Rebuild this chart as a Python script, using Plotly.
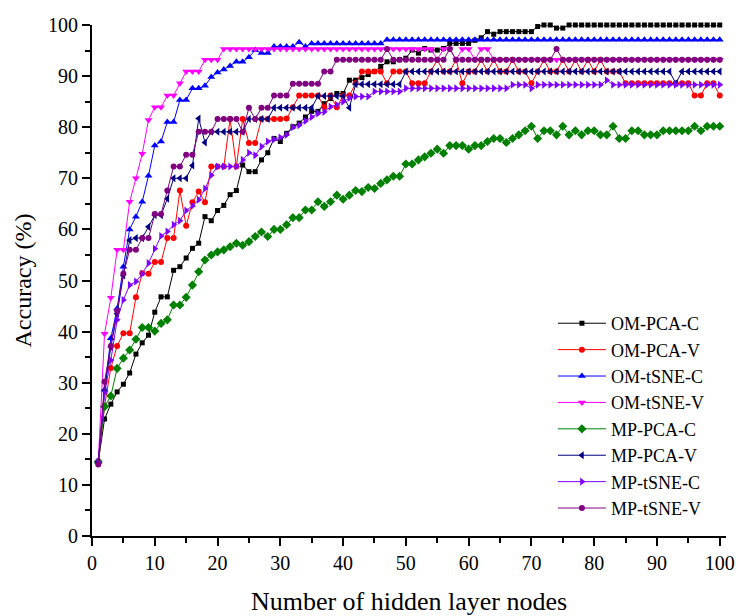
import plotly.graph_objects as go

nodes = list(range(1, 101))

om_pca_c = [14.5, 22.9, 25.8, 28.2, 29.7, 31.9, 35.6, 37.8, 39.3, 43.8,
            46.8, 46.8, 52.0, 52.7, 54.4, 56.3, 57.3, 62.5, 61.7, 63.7,
            64.7, 66.8, 67.6, 72.6, 71.3, 71.3, 73.6, 75.0, 77.8, 77.2,
            78.8, 80.1, 80.8, 82.0, 83.1, 83.1, 84.6, 85.6, 86.6, 86.6,
            89.2, 89.2, 89.7, 90.3, 90.9, 91.9, 92.8, 92.8, 93.2, 93.5,
            95.1, 94.5, 95.4, 95.1, 95.1, 95.4, 96.4, 96.4, 96.4, 96.4,
            97.0, 97.5, 98.7, 98.2, 98.7, 98.7, 98.7, 98.7, 98.7, 98.7,
            99.7, 100, 100, 99.4, 99.4, 100, 100, 100, 100, 100,
            100, 100, 100, 100, 100, 100, 100, 100, 100, 100,
            100, 100, 100, 100, 100, 100, 100, 100, 100, 100]

om_pca_v = [14.5, 25.5, 32.9, 37.2, 39.7, 39.7, 46.7, 51.4, 51.3, 53.6,
            53.6, 58.3, 58.3, 67.6, 60.7, 65.3, 67.4, 65.3, 72.3, 72.3,
            72.3, 81.6, 72.3, 81.6, 76.9, 76.9, 81.6, 81.6, 81.6, 81.6,
            81.7, 83.9, 86.2, 86.2, 86.2, 86.2, 83.9, 86.2, 83.9, 86.2,
            86.2, 88.6, 90.9, 90.9, 90.9, 90.9, 88.6, 90.9, 90.9, 90.9,
            88.6, 88.6, 88.6, 90.9, 93.2, 90.9, 90.9, 93.2, 88.6, 90.9,
            90.9, 93.2, 90.9, 93.2, 90.9, 90.9, 93.2, 90.9, 90.9, 88.6,
            90.9, 93.2, 90.9, 90.9, 93.2, 90.9, 93.2, 90.9, 93.2, 90.9,
            93.2, 90.9, 90.9, 90.9, 88.6, 88.6, 88.6, 88.6, 88.6, 88.6,
            88.6, 88.6, 88.6, 88.6, 88.6, 86.2, 86.2, 88.6, 88.6, 86.2]

om_tsne_c = [14.5, 28.6, 38.7, 44.5, 52.7, 60.0, 62.5, 65.4, 70.5, 76.4,
             77.2, 81.0, 81.0, 85.3, 85.3, 87.6, 87.6, 88.1, 89.8, 90.7,
             91.3, 92.0, 92.8, 92.8, 93.7, 95.1, 94.5, 94.5, 95.8, 95.8,
             95.8, 95.8, 96.6, 95.8, 96.4, 96.4, 96.4, 96.4, 96.4, 96.4,
             96.4, 96.4, 96.4, 96.4, 96.4, 96.4, 97.1, 97.1, 97.1, 97.1,
             97.1, 97.1, 97.1, 97.1, 97.1, 97.1, 97.1, 97.1, 97.1, 97.1,
             97.1, 97.1, 97.1, 97.1, 97.1, 97.1, 97.1, 97.1, 97.1, 97.1,
             97.1, 97.1, 97.1, 97.1, 97.1, 97.1, 97.1, 97.1, 97.1, 97.1,
             97.1, 97.1, 97.1, 97.1, 97.1, 97.1, 97.1, 97.1, 97.1, 97.1,
             97.1, 97.1, 97.1, 97.1, 97.1, 97.1, 97.1, 97.1, 97.1, 97.1]

om_tsne_v = [14.5, 39.6, 46.6, 56.0, 56.0, 65.4, 70.0, 74.8, 81.4, 83.9,
             83.9, 86.2, 86.2, 88.6, 90.9, 90.9, 90.9, 93.2, 93.2, 93.2,
             95.3, 95.3, 95.3, 95.3, 95.3, 95.3, 95.3, 95.3, 95.3, 95.3,
             95.3, 95.3, 95.3, 95.3, 95.3, 95.3, 95.3, 95.3, 95.3, 95.3,
             95.3, 95.3, 95.3, 95.3, 95.3, 95.3, 95.3, 95.3, 95.3, 95.3,
             95.3, 95.3, 95.3, 95.3, 93.2, 95.3, 95.3, 93.2, 95.3, 95.3,
             93.2, 95.3, 95.3, 93.2, 93.2, 93.2, 93.2, 93.2, 93.2, 93.2,
             93.2, 93.2, 93.2, 93.2, 93.2, 93.2, 93.2, 93.2, 93.2, 93.2,
             93.2, 93.2, 93.2, 93.2, 93.2, 93.2, 93.2, 93.2, 93.2, 93.2,
             93.2, 93.2, 93.2, 93.2, 93.2, 93.2, 93.2, 93.2, 93.2, 93.2]

mp_pca_c = [14.5, 25.3, 27.4, 32.8, 34.8, 36.4, 38.5, 40.8, 40.8, 40.1,
            41.6, 42.3, 45.2, 45.2, 46.7, 49.1, 51.7, 54.0, 55.0, 55.6,
            56.0, 56.6, 57.3, 56.9, 57.6, 58.6, 59.5, 58.6, 60.0, 60.0,
            60.9, 62.3, 62.3, 63.8, 63.8, 65.4, 64.5, 65.4, 66.7, 65.9,
            66.7, 67.6, 67.4, 68.2, 68.0, 69.0, 69.7, 70.4, 70.4, 72.8,
            72.8, 73.6, 74.2, 74.9, 75.7, 74.9, 76.4, 76.4, 76.4, 75.7,
            76.4, 76.4, 77.2, 77.8, 77.8, 77.0, 77.8, 78.5, 79.3, 80.2,
            77.8, 79.3, 79.3, 78.5, 80.2, 78.5, 79.3, 78.5, 79.3, 79.3,
            78.5, 78.5, 80.2, 77.8, 77.8, 79.3, 79.3, 78.5, 78.5, 78.5,
            79.3, 79.3, 79.3, 79.3, 79.3, 80.2, 79.3, 80.2, 80.2, 80.2]

mp_pca_v = [14.5, 28.5, 37.0, 43.5, 51.0, 57.9, 58.3, 58.3, 60.5, 62.8,
            62.8, 66.0, 70.0, 70.0, 70.0, 72.5, 81.7, 77.0, 79.1, 79.1,
            79.1, 79.1, 79.1, 79.1, 81.6, 81.6, 81.6, 81.6, 83.8, 83.8,
            83.8, 83.8, 83.8, 83.8, 83.8, 86.1, 86.1, 86.1, 86.1, 86.1,
            83.8, 88.4, 88.4, 88.4, 88.4, 88.4, 88.4, 88.4, 88.4, 90.9,
            90.9, 90.9, 90.9, 90.9, 90.9, 90.9, 90.9, 90.9, 90.9, 90.9,
            90.9, 90.9, 90.9, 90.9, 90.9, 90.9, 90.9, 90.9, 90.9, 90.9,
            90.9, 90.9, 90.9, 90.9, 90.9, 90.9, 90.9, 90.9, 90.9, 90.9,
            90.9, 90.9, 90.9, 90.9, 90.9, 90.9, 90.9, 90.9, 90.9, 90.9,
            90.9, 90.9, 88.6, 90.9, 90.9, 90.9, 90.9, 90.9, 90.9, 90.9]

mp_tsne_c = [14.5, 28.0, 34.4, 42.3, 46.2, 49.1, 49.8, 51.3, 53.4, 56.2,
             58.7, 59.6, 60.9, 61.7, 63.7, 64.6, 65.8, 68.0, 70.6, 72.3,
             72.3, 72.3, 72.3, 73.6, 75.0, 74.5, 76.2, 77.2, 77.6, 78.0,
             78.5, 80.0, 80.4, 81.2, 82.0, 82.7, 83.0, 84.0, 84.4, 85.0,
             85.7, 86.0, 86.0, 86.0, 87.0, 87.0, 87.0, 87.0, 87.0, 87.6,
             87.6, 87.6, 87.6, 87.6, 87.6, 87.6, 87.6, 87.6, 87.6, 87.6,
             87.6, 87.6, 87.6, 87.6, 87.6, 87.6, 88.3, 88.3, 88.3, 87.6,
             88.3, 88.3, 88.3, 88.3, 88.3, 88.3, 88.3, 88.3, 88.3, 88.3,
             88.3, 89.2, 88.3, 88.3, 88.3, 88.3, 88.3, 88.3, 88.3, 88.3,
             88.3, 88.3, 88.3, 88.3, 88.3, 88.3, 88.3, 88.3, 88.3, 88.3]

mp_tsne_v = [14.0, 30.2, 37.2, 44.1, 51.3, 56.0, 56.0, 58.3, 58.3, 63.0,
             63.0, 67.6, 72.3, 72.3, 74.6, 74.6, 79.1, 79.1, 79.1, 81.6,
             81.6, 81.6, 81.6, 79.1, 83.8, 81.6, 83.8, 83.8, 86.2, 86.2,
             86.2, 88.5, 88.5, 88.5, 88.5, 88.5, 90.9, 90.9, 93.2, 93.2,
             93.2, 93.2, 93.2, 93.2, 93.2, 93.2, 95.3, 93.2, 93.2, 93.2,
             93.2, 93.2, 93.2, 93.2, 93.2, 93.2, 95.3, 93.2, 93.2, 93.2,
             93.2, 93.2, 93.2, 93.2, 93.2, 93.2, 93.2, 93.2, 93.2, 93.2,
             93.2, 93.2, 93.2, 95.3, 93.2, 93.2, 93.2, 93.2, 93.2, 93.2,
             93.2, 93.2, 93.2, 93.2, 93.2, 93.2, 93.2, 93.2, 93.2, 93.2,
             93.2, 93.2, 93.2, 93.2, 93.2, 93.2, 93.2, 93.2, 93.2, 93.2]

series = [
    ("OM-PCA-C", om_pca_c, "#000000", "square", 5),
    ("OM-PCA-V", om_pca_v, "#FF0000", "circle", 6),
    ("OM-tSNE-C", om_tsne_c, "#0000FF", "triangle-up", 7),
    ("OM-tSNE-V", om_tsne_v, "#FF00FF", "triangle-down", 7),
    ("MP-PCA-C", mp_pca_c, "#008000", "diamond", 7),
    ("MP-PCA-V", mp_pca_v, "#000080", "triangle-left", 7),
    ("MP-tSNE-C", mp_tsne_c, "#8000FF", "triangle-right", 7),
    ("MP-tSNE-V", mp_tsne_v, "#800080", "circle", 6),
]

SERIF = "Liberation Serif, Times New Roman, serif"

fig = go.Figure()
for name, vals, color, sym, size in series:
    fig.add_trace(go.Scatter(
        x=nodes, y=vals, name=name, mode="lines+markers",
        line=dict(color=color, width=1),
        marker=dict(symbol=sym, size=size, color=color, line=dict(width=0)),
        cliponaxis=False,
    ))

fig.update_layout(
    width=738, height=616,
    margin=dict(l=92, r=12, t=25, b=80),
    plot_bgcolor="white", paper_bgcolor="white",
    font=dict(family=SERIF, size=20, color="black"),
    showlegend=True,
    legend=dict(
        x=0.727, y=0.452, xanchor="left", yanchor="top",
        bgcolor="rgba(0,0,0,0)", borderwidth=0,
        font=dict(family=SERIF, size=18, color="black"),
        itemwidth=48, tracegroupgap=0,
    ),
)

fig.update_xaxes(
    range=[0, 101], showgrid=False, zeroline=False, automargin=False,
    showline=True, linecolor="black", linewidth=2,
    ticks="outside", tickwidth=2, ticklen=8, tickcolor="black",
    tick0=0, dtick=10, tickfont=dict(family=SERIF, size=20),
    minor=dict(ticks="outside", ticklen=5, tickwidth=1.5, dtick=5, tick0=0, tickcolor="black"),
    title=dict(text="Number of hidden layer nodes", font=dict(family=SERIF, size=26), standoff=28),
)
fig.update_yaxes(
    range=[0, 100], showgrid=False, zeroline=False, automargin=False,
    showline=True, linecolor="black", linewidth=2,
    ticks="outside", tickwidth=2, ticklen=8, tickcolor="black",
    tick0=0, dtick=10, tickfont=dict(family=SERIF, size=20),
    minor=dict(ticks="outside", ticklen=5, tickwidth=1.5, dtick=5, tick0=0, tickcolor="black"),
    title=dict(text="Accuracy (%)", font=dict(family=SERIF, size=24), standoff=10),
)

fig.write_html("out.html")
